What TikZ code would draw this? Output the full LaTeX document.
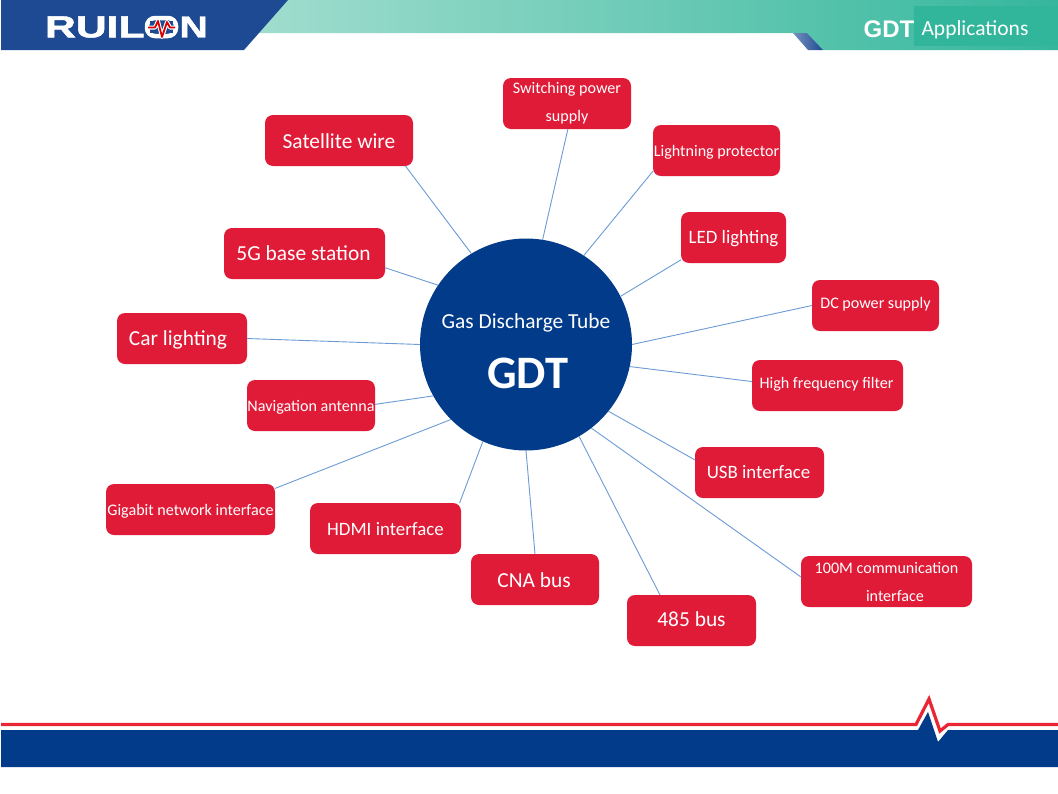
\documentclass[tikz,border=0pt]{standalone}
\usepackage{fontspec}
\setmainfont{Carlito}
\newfontfamily\arialb{Liberation Sans}
\newfontfamily\logofont[BoldFeatures={FakeBold=1.5}]{Liberation Sans}
\definecolor{boxred}{HTML}{E01B38}
\definecolor{hubblue}{HTML}{023B8A}
\definecolor{headblue}{HTML}{1D4A92}
\definecolor{linkblue}{HTML}{6C9BD5}
\definecolor{tealA}{HTML}{A0DDCE}
\definecolor{tealB}{HTML}{35B79D}
\definecolor{tealC}{HTML}{32B69B}
\definecolor{footred}{HTML}{EA2534}
\tikzset{
  x=1pt,y=-1pt,
  redbox/.style={draw=none,fill=boxred,rounded corners=8pt,inner sep=0pt,outer sep=0pt,text=white,align=center,minimum height=51pt},
  bigtxt/.style={font=\fontsize{21.4}{24}\selectfont},
  midtxt/.style={font=\fontsize{18.9}{24}\selectfont},
  smalltxt/.style={font=\fontsize{16.1}{28}\selectfont},
  bl/.style={text height={2*#1},text depth=0pt},
  link/.style={draw=linkblue,line width=0.9pt},
  whitetxt/.style={text=white,inner sep=0pt,outer sep=0pt}
}
\begin{document}
\begin{tikzpicture}
\path[use as bounding box,fill=white] (0,0) rectangle (1058,793);
% header
\shade[left color=tealA,right color=tealB,shading angle=90] (259,0) -- (1058,0) -- (1058,50) -- (823,50) -- (807,33) -- (259,33) -- cycle;
\fill[tealC] (914,6) rectangle (1058,46);
\shade[left color=headblue!60!white,right color=headblue] (793,33) -- (807,33) -- (823,50) -- (808,50) -- cycle;
\fill[headblue] (1,0) -- (288,0) -- (244,50) -- (1,50) -- cycle;
% logo
\node[whitetxt,anchor=west] (logoa) at (45,27) {\scalebox{1.4}[1]{\logofont\fontsize{30.5}{30}\selectfont\bfseries RUIL}};
\node[whitetxt,anchor=west] (logob) at (179.5,27) {\scalebox{1.28}[1]{\logofont\fontsize{30.5}{30}\selectfont\bfseries N}};
\draw[white,line width=4.5pt,rounded corners=8pt] (147,18) rectangle (176,36);
\fill[headblue] (150,21) rectangle (173,33);
\draw[white,line width=4pt,line join=round] (148,27.5) -- (155,27.5) -- (158,21) -- (162,37) -- (167,22) -- (170,27.5) -- (175,27.5);
\draw[red!85!black,line width=1.8pt,line join=round] (148,27.5) -- (155,27.5) -- (158,21) -- (162,37) -- (167,22) -- (170,27.5) -- (175,27.5);
\node[whitetxt,anchor=center] (hgdt) at (889,29.5) {\arialb\fontsize{24}{24}\selectfont\bfseries GDT};
\node[whitetxt,anchor=center] (happ) at (975,30) {\fontsize{21.5}{24}\selectfont Applications};
% footer
\fill[hubblue] (1,730) -- (918,730) -- (928,712) -- (938,742) -- (948,730) -- (1058,730) -- (1058,767) -- (1,767) -- cycle;
\draw[footred,line width=3.2pt,miter limit=8] (1,724.5) -- (916,724.5) -- (929,699) -- (940,731) -- (948,724.5) -- (1058,724.5);
% hub
\node[circle,fill=hubblue,minimum size=212pt,inner sep=0pt,outer sep=0pt] (hub) at (526,344.5) {};
\node[whitetxt] (hubt) at (526,322.5) {\fontsize{21.4}{24}\selectfont Gas Discharge Tube};
\node[whitetxt] (hubg) at (528,373.5) {\fontsize{46.5}{48}\selectfont\bfseries GDT};
% boxes
\node[redbox,bigtxt,bl=7.7,minimum width=148pt] (sat) at (339,140.5) {Satellite wire};
\node[redbox,smalltxt,minimum width=128pt] (sw) at (567,103.5) {Switching power\\supply};
\node[redbox,smalltxt,bl=6.2,minimum width=127pt] (lp) at (716.5,150.5) {Lightning protector};
\node[redbox,midtxt,bl=6,minimum width=105pt] (led) at (733.5,237.5) {LED lighting};
\node[redbox,smalltxt,bl=3.2,minimum width=127pt] (dc) at (875.5,305.5) {DC power supply};
\node[redbox,smalltxt,bl=3.2,minimum width=151pt] (hf) at (827.5,385.5) {\hspace{0pt}High frequency filter\hspace*{2pt}};
\node[redbox,midtxt,bl=6.3,minimum width=129pt] (usb) at (759.5,472.5) {USB interface\hspace*{2pt}};
\node[redbox,smalltxt,minimum width=171pt] (hm) at (886.5,581.5) {100M communication\\\hspace*{17pt}interface};
\node[redbox,bigtxt,bl=6,minimum width=129pt] (rs) at (691.5,620.5) {485 bus};
\node[redbox,bigtxt,bl=8,minimum width=128pt] (cna) at (535,579.5) {CNA bus\hspace*{2pt}};
\node[redbox,midtxt,bl=7,minimum width=151pt] (hdmi) at (385.5,528.5) {HDMI interface};
\node[redbox,smalltxt,bl=6.2,minimum width=169pt] (gig) at (190.5,509.5) {Gigabit network interface};
\node[redbox,smalltxt,bl=6.2,minimum width=128pt] (nav) at (311,405.5) {Navigation antenna};
\node[redbox,bigtxt,bl=7,minimum width=130pt] (car) at (182,338.5) {Car lighting\hspace*{8pt}};
\node[redbox,bigtxt,bl=7,minimum width=161pt] (fg) at (304.5,253.5) {5G base station\hspace*{2pt}};
% connectors
\draw[link] (hub.121.7) -- (sat.-21.7);
\draw[link] (hub.81.4) -- (sw.-88);
\draw[link] (hub.57.8) -- (lp.-162);
\draw[link] (hub.27) -- (led.-157.7);
\draw[link] (hub.0) -- (dc.180);
\draw[link] (hub.-12.6) -- (hf.177.3);
\draw[link] (hub.-39.3) -- (usb.169);
\draw[link] (hub.-52.9) -- (hm.177.7);
\draw[link] (hub.-60) -- (rs.141.9);
\draw[link] (hub.-90) -- (cna.90);
\draw[link] (hub.-114) -- (hdmi.19.6);
\draw[link] (hub.-135.6) -- (gig.14.8);
\draw[link] (hub.-151.5) -- (nav.1.3);
\draw[link] (hub.180) -- (car.0);
\draw[link] (hub.146) -- (fg.-10.9);
\end{tikzpicture}
\end{document}
